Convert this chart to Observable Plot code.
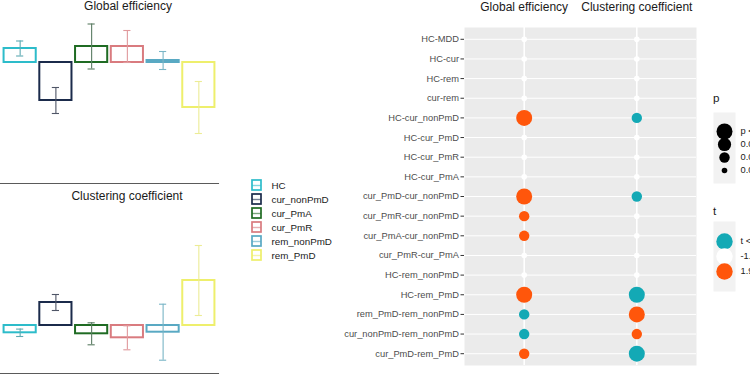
<!DOCTYPE html>
<html><head><meta charset="utf-8">
<script src="https://cdn.jsdelivr.net/npm/d3@7"></script>
<script src="https://cdn.jsdelivr.net/npm/@observablehq/plot@0.6"></script>
<style>
html,body{margin:0;padding:0;background:#fff;overflow:hidden;}
#root{position:relative;width:750px;height:375px;overflow:hidden;font-family:"Liberation Sans",Arial,sans-serif;}
#root svg{position:absolute;overflow:visible;background:transparent;}
.title{position:absolute;font-size:12px;line-height:12px;color:#1a1a1a;white-space:nowrap;transform:translateX(-50%);}
.ltitle{position:absolute;font-size:11.6px;line-height:11.6px;color:#1a1a1a;white-space:nowrap;}
</style></head><body><div id="root"></div>
<script>
// ---- left panels: group means with error bars ----
const groups = ["HC", "cur_nonPmD", "cur_PmA", "cur_PmR", "rem_nonPmD", "rem_PmD"];
const groupColors = ["#2dbcca", "#1b2b4b", "#1f6b23", "#d97b7f", "#59a9c3", "#eeef6c"];
const errColors = ["#5eaab2", "#4f5667", "#5b7c63", "#e0999c", "#79b5c6", "#ecec95"];
const geMean = [0.14, -0.38, 0.16, 0.16, 0.02, -0.45];
const geErr  = [0.075, 0.13, 0.225, 0.16, 0.09, 0.26];
const ccMean = [-0.073, 0.23, -0.083, -0.123, -0.067, 0.45];
const ccErr  = [0.037, 0.08, 0.11, 0.12, 0.28, 0.35];

// ---- right panel: pairwise comparisons ----
const comparisons = ["HC-MDD", "HC-cur", "HC-rem", "cur-rem", "HC-cur_nonPmD", "HC-cur_PmD",
  "HC-cur_PmR", "HC-cur_PmA", "cur_PmD-cur_nonPmD", "cur_PmR-cur_nonPmD", "cur_PmA-cur_nonPmD",
  "cur_PmR-cur_PmA", "HC-rem_nonPmD", "HC-rem_PmD", "rem_PmD-rem_nonPmD",
  "cur_nonPmD-rem_nonPmD", "cur_PmD-rem_PmD"];
const measures = ["Global efficiency", "Clustering coefficient"];
const pLevels = ["p < 0.001", "0.001 < p < 0.01", "0.01 < p < 0.05", "0.05 < p"];
const tLevels = ["t < -1.96", "-1.96 < t < 1.96", "1.96 < t"];
const geP = [3,3,3,3,0,3,3,3,0,2,2,3,3,0,2,2,2];
const geT = [1,1,1,1,2,1,1,1,2,2,2,1,1,2,0,0,2];
const ccP = [3,3,3,3,2,3,3,3,2,3,3,3,3,0,0,2,0];
const ccT = [1,1,1,1,0,1,1,1,0,1,1,1,1,0,2,2,0];

const tColors = ["#13a9b5", "#ffffff", "#ff560b"];
const pRadii = [8, 6.6, 5.2, 2.8];
const FONT = '"Liberation Sans", Arial, sans-serif';
const root = document.getElementById("root");

function place(el, left, top) { el.style.left = left + "px"; el.style.top = top + "px"; root.appendChild(el); return el; }
function div(cls, text, left, top) { const d = document.createElement("div"); d.className = cls; d.textContent = text; return place(d, left, top); }

function barPlot(mean, err, yDomain, height) {
  const rows = groups.map((g, i) => ({g, m: mean[i], lo: mean[i] - err[i], hi: mean[i] + err[i]}));
  const errColor = {stroke: d => errColors[groups.indexOf(d.g)]};
  return Plot.plot({
    width: 218, height, marginTop: 0, marginLeft: 0, marginRight: 0, marginBottom: 2,
    style: {fontFamily: FONT, background: "transparent"},
    x: {domain: groups, padding: 0.1, round: false, axis: null},
    y: {domain: yDomain, axis: null},
    color: {domain: groups, range: groupColors},
    marks: [
      Plot.frame({anchor: "bottom", stroke: "#5a5a5a", strokeWidth: 1.1}),
      Plot.barY(rows, {x: "g", y1: 0, y2: "m", fill: "white", stroke: "g", strokeWidth: 2}),
      Plot.ruleX(rows, {x: "g", y1: "lo", y2: "hi", ...errColor, strokeWidth: 1.1}),
      Plot.tickY(rows, {x: "g", y: "lo", ...errColor, strokeWidth: 1.1, insetLeft: 12.5, insetRight: 12.5}),
      Plot.tickY(rows, {x: "g", y: "hi", ...errColor, strokeWidth: 1.1, insetLeft: 12.5, insetRight: 12.5})
    ]
  });
}

place(barPlot(geMean, geErr, [-1.21, 0.62], 185), 0, 0);
place(barPlot(ccMean, ccErr, [-0.48, 1.40], 190), 0, 185);
div("title", "Global efficiency", 128, 0);
div("title", "Clustering coefficient", 127, 190);

// left legend
place(Plot.plot({
  width: 110, height: 90, marginTop: 3, marginBottom: 3, marginLeft: 0, marginRight: 0,
  style: {fontFamily: FONT, background: "transparent"},
  x: {domain: ["k"], range: [7, 16], padding: 0, axis: null},
  y: {domain: groups, padding: 0, round: false, axis: null},
  color: {domain: groups, range: groupColors},
  marks: [
    Plot.cell(groups, {x: () => "k", y: d => d, fill: "white", stroke: d => d, strokeWidth: 1.7, insetTop: 2, insetBottom: 2}),
    Plot.tickY(groups, {x: () => "k", y: d => d, stroke: d => d, strokeWidth: 1.4, strokeOpacity: 0.6}),
    Plot.text(groups, {x: () => "k", y: d => d, text: d => d, textAnchor: "start", dx: 14.5, fontSize: 9.8, fill: "#222"})
  ]
}), 245, 175);

// right dot plot
const dotRows = [];
comparisons.forEach((c, i) => {
  dotRows.push({c, m: measures[0], p: pLevels[geP[i]], t: tLevels[geT[i]]});
  dotRows.push({c, m: measures[1], p: pLevels[ccP[i]], t: tLevels[ccT[i]]});
});
place(Plot.plot({
  width: 360, height: 375, marginLeft: 124, marginRight: 4, marginTop: 27, marginBottom: 10,
  style: {fontFamily: FONT, background: "transparent"},
  x: {domain: measures, type: "point", padding: 0.53, round: false, axis: null},
  y: {domain: comparisons, type: "point", padding: 0.6, round: false, axis: null},
  r: {type: "ordinal", domain: pLevels, range: pRadii},
  color: {domain: tLevels, range: tColors},
  marks: [
    Plot.frame({fill: "#ebebeb"}),
    Plot.gridY({stroke: "white", strokeOpacity: 1, strokeWidth: 1}),
    Plot.gridX({stroke: "white", strokeOpacity: 1, strokeWidth: 1.6}),
    Plot.axisY({tickSize: 3.5, tickPadding: 2, fontSize: 9.3, fill: "#4d4d4d", stroke: "#333", label: null}),
    Plot.axisX({anchor: "top", tickSize: 0, tickPadding: 17, fontSize: 12, fill: "#1a1a1a", label: null}),
    Plot.dot(dotRows, {x: "m", y: "c", r: "p", fill: "t"})
  ]
}), 340, 0);

// p legend
div("ltitle", "p", 713, 92);
place(Plot.plot({
  width: 120, height: 71, marginTop: 0, marginBottom: 0, marginLeft: 13, marginRight: 85,
  style: {fontFamily: FONT, background: "transparent"},
  x: {domain: ["k"], type: "point", axis: null},
  y: {domain: pLevels, type: "point", range: [11, 65], axis: null},
  r: {type: "ordinal", domain: pLevels, range: pRadii},
  marks: [
    Plot.frame({fill: "#f2f2f2"}),
    Plot.dot(pLevels, {x: () => "k", y: d => d, r: d => d, fill: "black"}),
    Plot.text(pLevels, {x: () => "k", y: d => d, text: d => d, textAnchor: "start", dx: 16, fontSize: 9.3, fill: "#1a1a1a"})
  ]
}), 700, 112);

// t legend
div("ltitle", "t", 713, 205);
place(Plot.plot({
  width: 120, height: 70, marginTop: 0, marginBottom: 0, marginLeft: 13, marginRight: 85,
  style: {fontFamily: FONT, background: "transparent"},
  x: {domain: ["k"], type: "point", axis: null},
  y: {domain: tLevels, type: "point", range: [11.6, 58.3], axis: null},
  color: {domain: tLevels, range: tColors},
  marks: [
    Plot.frame({fill: "#f2f2f2"}),
    Plot.dot(tLevels, {x: () => "k", y: d => d, r: 8.2, fill: d => d}),
    Plot.text(tLevels, {x: () => "k", y: d => d, text: d => d, textAnchor: "start", dx: 16, fontSize: 9.3, fill: "#1a1a1a"})
  ]
}), 700, 221);
</script></body></html>
